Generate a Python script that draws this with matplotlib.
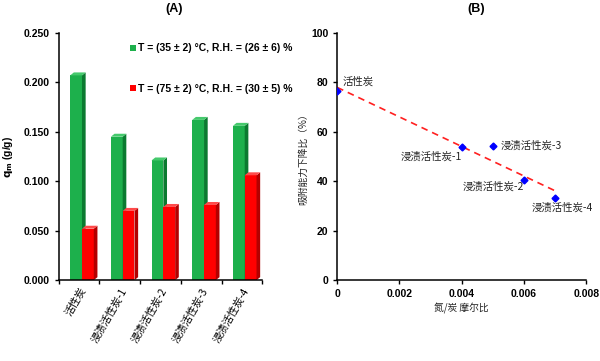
import matplotlib.pyplot as plt
import numpy as np
from matplotlib.patches import Polygon, Patch

plt.rcParams['font.family'] = ['Liberation Sans', 'Noto Sans CJK SC', 'DejaVu Sans']
cjk = ['Noto Sans CJK SC', 'DejaVu Sans']

# data (A)
samples = ['活性炭', '浸渍活性炭-1', '浸渍活性炭-2', '浸渍活性炭-3', '浸渍活性炭-4']
q_35 = [0.207, 0.145, 0.121, 0.162, 0.156]
q_75 = [0.052, 0.070, 0.074, 0.076, 0.106]
label_35 = 'T = (35 ± 2) °C, R.H. = (26 ± 6) %'
label_75 = 'T = (75 ± 2) °C, R.H. = (30 ± 5) %'

# data (B)
nc_ratio = [0.0, 0.004, 0.005, 0.006, 0.007]
drop_pct = [76.5, 53.8, 54.3, 40.5, 33.2]
point_names = ['活性炭', '浸渍活性炭-1', '浸渍活性炭-3', '浸渍活性炭-2', '浸渍活性炭-4']

fig = plt.figure(figsize=(6, 3.61), dpi=100)
axA = fig.add_axes([0.098, 0.224, 0.339, 0.685])
axB = fig.add_axes([0.562, 0.224, 0.415, 0.685])


def bar3d(ax, x0, h, w, dx, dy, front, side, top):
    ax.add_patch(Polygon([(x0, 0), (x0 + w, 0), (x0 + w, h), (x0, h)],
                         closed=True, fc=front, ec='none'))
    ax.add_patch(Polygon([(x0 + w, 0), (x0 + w + dx, dy), (x0 + w + dx, h + dy), (x0 + w, h)],
                         closed=True, fc=side, ec='none'))
    ax.add_patch(Polygon([(x0, h), (x0 + dx, h + dy), (x0 + w + dx, h + dy), (x0 + w, h)],
                         closed=True, fc=top, ec='none'))


w, dx, dy = 0.29, 0.09, 0.003
for i in range(len(samples)):
    bar3d(axA, i - 0.22, q_35[i], w, dx, dy, '#1db04c', '#0b7a30', '#45c96c')
    bar3d(axA, i + 0.07, q_75[i], w, dx, dy, '#ff0000', '#b30000', '#ff4a4a')

axA.set_xlim(-0.5, len(samples) - 0.5)
axA.set_ylim(0, 0.25)
axA.set_yticks(np.arange(0, 0.251, 0.05))
axA.set_yticklabels(['%.3f' % v for v in np.arange(0, 0.251, 0.05)],
                    fontsize=7.5, fontweight='bold')
axA.set_xticks(np.arange(-0.5, len(samples)), labels=[])
axA.set_xticks(range(len(samples)), minor=True)
axA.set_xticklabels(samples, minor=True, rotation=60, ha='right', va='top',
                    rotation_mode='anchor', fontsize=7.5, family=cjk)
axA.tick_params(axis='x', which='minor', length=0, pad=4)
axA.tick_params(axis='both', which='major', direction='out', length=3, width=1)
axA.set_ylabel(r'$\mathbf{q_m}$ (g/g)', fontsize=7.5, fontweight='bold', labelpad=6)
for s in ['top', 'right']:
    axA.spines[s].set_visible(False)
for s in ['left', 'bottom']:
    axA.spines[s].set_linewidth(1.1)

handles = [Patch(fc='#1db04c', ec='none'), Patch(fc='#ff0000', ec='none')]
leg = axA.legend(handles, [label_35, label_75], loc='upper left',
                 bbox_to_anchor=(0.305, 0.995), frameon=False, handlelength=0.55,
                 handleheight=0.55, handletextpad=0.2, labelspacing=2.9,
                 prop={'size': 7.5, 'weight': 'bold'})
fig.text(174 / 600, 1 - 9 / 361, '(A)', ha='center', va='center',
         fontsize=9, fontweight='bold')

# panel B
axB.plot(nc_ratio, drop_pct, 'D', color='#0000ff', markersize=3.5, zorder=3)
k, b = np.polyfit(nc_ratio, drop_pct, 1)
xs = np.array([min(nc_ratio), max(nc_ratio)])
axB.plot(xs, k * xs + b, '--', color='#ff2020', lw=1.2, dashes=(4, 3), zorder=2)

offsets = [(4, 6.5, 'left'), (0, -7, 'right'), (5.5, 0, 'left'), (0, -5, 'right'), (-17, -7, 'left')]
for xv, yv, name, (ox, oy, ha) in zip(nc_ratio, drop_pct, point_names, offsets):
    axB.annotate(name, (xv, yv), xytext=(ox, oy), textcoords='offset points',
                 ha=ha, va='center', fontsize=7.5, family=cjk, color='#222222')

axB.set_xlim(0, 0.008)
axB.set_ylim(0, 100)
axB.set_xticks([0, 0.002, 0.004, 0.006, 0.008])
axB.set_xticklabels(['0', '0.002', '0.004', '0.006', '0.008'], fontsize=7.5, fontweight='bold')
axB.set_yticks(range(0, 101, 20))
axB.set_yticklabels([str(v) for v in range(0, 101, 20)], fontsize=7.5, fontweight='bold')
axB.tick_params(axis='both', direction='out', length=3, width=1)
axB.set_xlabel('氮/炭 摩尔比', fontsize=7, family=cjk, color='#222222', labelpad=3)
axB.set_ylabel('吸附能力下降比（%）', fontsize=7, family=cjk, color='#222222', labelpad=2)
for s in ['top', 'right']:
    axB.spines[s].set_visible(False)
for s in ['left', 'bottom']:
    axB.spines[s].set_linewidth(1.1)
fig.text(476 / 600, 1 - 9 / 361, '(B)', ha='center', va='center',
         fontsize=9, fontweight='bold')

fig.savefig('out.png', dpi=100)
